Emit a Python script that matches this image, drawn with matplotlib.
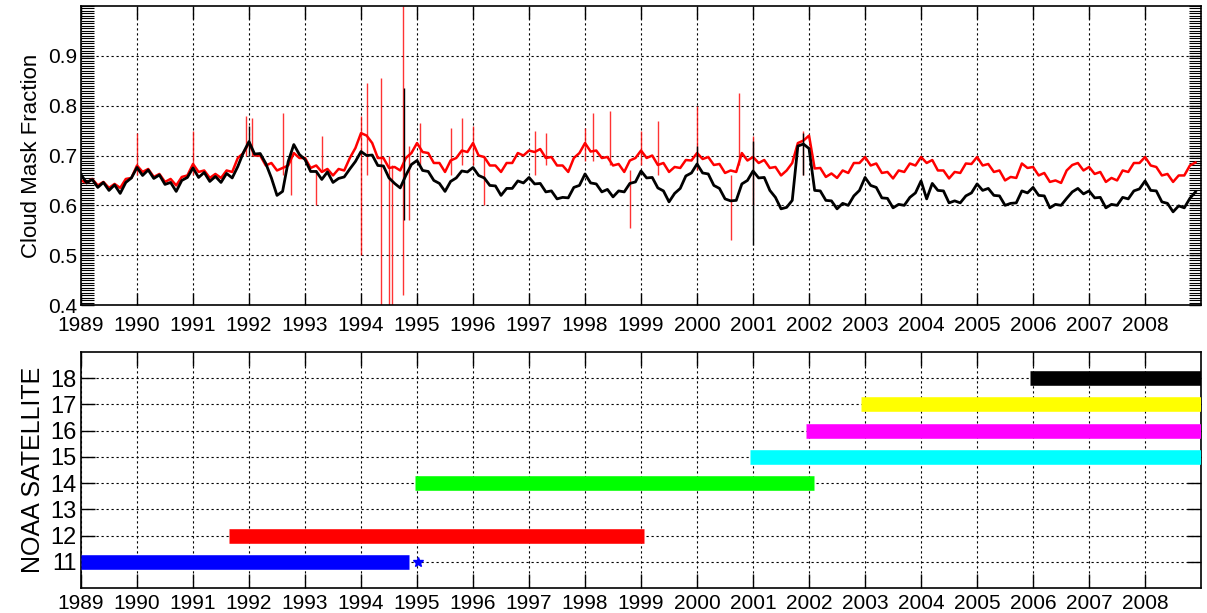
import numpy as np
import matplotlib.pyplot as plt
from matplotlib.ticker import MultipleLocator

plt.rcParams['font.family'] = ['Liberation Sans', 'DejaVu Sans']

# Serie temporal (valores leidos cada 0.1 anos, 1989.0 - 2008.9)
years = np.arange(1989, 2009, 0.1)

black_vals = [
    0.662, 0.645, 0.652, 0.636, 0.646, 0.630, 0.641, 0.624, 0.646, 0.655,  # 1989
    0.676, 0.660, 0.671, 0.654, 0.661, 0.642, 0.646, 0.628, 0.650, 0.656,  # 1990
    0.675, 0.656, 0.666, 0.648, 0.658, 0.646, 0.664, 0.655, 0.678, 0.706,  # 1991
    0.728, 0.703, 0.704, 0.684, 0.655, 0.620, 0.628, 0.688, 0.722, 0.702,  # 1992
    0.692, 0.668, 0.668, 0.652, 0.667, 0.646, 0.654, 0.657, 0.673, 0.688,  # 1993
    0.708, 0.700, 0.701, 0.680, 0.679, 0.655, 0.644, 0.635, 0.660, 0.682,  # 1994
    0.690, 0.670, 0.668, 0.650, 0.644, 0.628, 0.648, 0.655, 0.669, 0.667,  # 1995
    0.676, 0.660, 0.655, 0.640, 0.639, 0.620, 0.634, 0.634, 0.649, 0.645,  # 1996
    0.656, 0.643, 0.644, 0.627, 0.629, 0.613, 0.616, 0.615, 0.636, 0.640,  # 1997
    0.663, 0.645, 0.643, 0.627, 0.632, 0.617, 0.629, 0.627, 0.644, 0.647,  # 1998
    0.669, 0.655, 0.656, 0.635, 0.629, 0.607, 0.624, 0.634, 0.659, 0.665,  # 1999
    0.683, 0.665, 0.663, 0.640, 0.634, 0.613, 0.609, 0.610, 0.643, 0.650,  # 2000
    0.669, 0.655, 0.656, 0.630, 0.616, 0.593, 0.596, 0.610, 0.719, 0.723,  # 2001
    0.714, 0.630, 0.629, 0.610, 0.609, 0.593, 0.604, 0.600, 0.619, 0.630,  # 2002
    0.656, 0.640, 0.636, 0.615, 0.614, 0.595, 0.602, 0.600, 0.616, 0.625,  # 2003
    0.649, 0.613, 0.644, 0.630, 0.629, 0.605, 0.609, 0.605, 0.619, 0.625,  # 2004
    0.643, 0.630, 0.634, 0.620, 0.619, 0.600, 0.604, 0.605, 0.629, 0.625,  # 2005
    0.636, 0.620, 0.619, 0.595, 0.602, 0.600, 0.614, 0.627, 0.634, 0.623,  # 2006
    0.629, 0.615, 0.616, 0.595, 0.602, 0.600, 0.616, 0.613, 0.629, 0.633,  # 2007
    0.649, 0.630, 0.629, 0.607, 0.604, 0.587, 0.599, 0.595, 0.614, 0.627,  # 2008
]

red_vals = [
    0.650, 0.645, 0.653, 0.640, 0.647, 0.635, 0.643, 0.635, 0.653, 0.655,  # 1989
    0.680, 0.667, 0.673, 0.657, 0.663, 0.647, 0.653, 0.640, 0.657, 0.660,  # 1990
    0.683, 0.667, 0.670, 0.655, 0.663, 0.655, 0.670, 0.667, 0.695, 0.705,  # 1991
    0.725, 0.700, 0.700, 0.680, 0.685, 0.670, 0.675, 0.680, 0.705, 0.695,  # 1992
    0.695, 0.675, 0.680, 0.667, 0.673, 0.660, 0.673, 0.670, 0.695, 0.715,  # 1993
    0.745, 0.740, 0.725, 0.695, 0.695, 0.675, 0.677, 0.670, 0.695, 0.705,  # 1994
    0.725, 0.707, 0.705, 0.685, 0.685, 0.667, 0.690, 0.695, 0.710, 0.707,  # 1995
    0.725, 0.700, 0.697, 0.680, 0.680, 0.667, 0.685, 0.685, 0.705, 0.700,  # 1996
    0.710, 0.707, 0.713, 0.695, 0.697, 0.680, 0.680, 0.667, 0.695, 0.705,  # 1997
    0.725, 0.708, 0.710, 0.695, 0.697, 0.680, 0.683, 0.667, 0.690, 0.695,  # 1998
    0.710, 0.695, 0.700, 0.681, 0.685, 0.667, 0.677, 0.675, 0.691, 0.690,  # 1999
    0.705, 0.693, 0.697, 0.681, 0.683, 0.665, 0.670, 0.667, 0.705, 0.690,  # 2000
    0.697, 0.685, 0.691, 0.675, 0.677, 0.660, 0.670, 0.685, 0.725, 0.730,  # 2001
    0.740, 0.674, 0.675, 0.657, 0.664, 0.655, 0.670, 0.665, 0.685, 0.685,  # 2002
    0.697, 0.680, 0.684, 0.665, 0.667, 0.654, 0.670, 0.667, 0.684, 0.680,  # 2003
    0.697, 0.685, 0.691, 0.670, 0.670, 0.654, 0.667, 0.665, 0.684, 0.683,  # 2004
    0.697, 0.680, 0.683, 0.667, 0.670, 0.650, 0.657, 0.655, 0.684, 0.675,  # 2005
    0.677, 0.660, 0.665, 0.647, 0.650, 0.645, 0.670, 0.681, 0.685, 0.670,  # 2006
    0.677, 0.663, 0.667, 0.647, 0.655, 0.650, 0.670, 0.667, 0.685, 0.685,  # 2007
    0.697, 0.680, 0.677, 0.660, 0.663, 0.647, 0.660, 0.660, 0.680, 0.686,  # 2008
]

# Picos (ano, minimo, maximo)
red_spike_t = [1990.0, 1991.0, 1991.95, 1992.05, 1992.6, 1992.75, 1993.2, 1993.3,
               1994.0, 1994.1, 1994.35, 1994.5, 1994.55, 1994.75, 1994.85,
               1995.05, 1995.6, 1995.8, 1996.0, 1996.2, 1997.1, 1997.3,
               1998.0, 1998.15, 1998.45, 1998.8, 1999.0, 1999.3,
               2000.0, 2000.6, 2000.75, 2001.0, 2001.9]
red_spike_lo = [0.66, 0.66, 0.70, 0.70, 0.66, 0.62, 0.60, 0.67,
                0.50, 0.66, 0.38, 0.38, 0.38, 0.42, 0.57,
                0.68, 0.66, 0.68, 0.68, 0.60, 0.66, 0.68,
                0.69, 0.69, 0.68, 0.555, 0.68, 0.66,
                0.67, 0.53, 0.68, 0.60, 0.66]
red_spike_hi = [0.745, 0.75, 0.78, 0.775, 0.785, 0.70, 0.67, 0.74,
                0.78, 0.845, 0.855, 0.70, 0.68, 1.0, 0.72,
                0.765, 0.755, 0.775, 0.76, 0.70, 0.75, 0.745,
                0.755, 0.785, 0.79, 0.67, 0.75, 0.77,
                0.80, 0.66, 0.825, 0.74, 0.75]

black_spike_t = [1992.0, 1994.77, 2000.0, 2001.0, 2001.9]
black_spike_lo = [0.70, 0.57, 0.68, 0.52, 0.66]
black_spike_hi = [0.76, 0.835, 0.72, 0.73, 0.745]

# Periodos de cada satelite NOAA
sat_num = [11, 12, 14, 15, 16, 17, 18]
sat_start = [1989.0, 1991.65, 1994.97, 2000.95, 2001.95, 2002.93, 2005.95]
sat_end = [1994.85, 1999.05, 2002.08, 2009.0, 2009.0, 2009.0, 2009.0]
sat_color = ['blue', 'red', 'lime', 'cyan', 'magenta', 'yellow', 'black']

year_ticks = list(range(1989, 2009))

fig = plt.figure(figsize=(12.07, 6.13), dpi=100)

grid_style = dict(color='black', linestyle=(0, (2, 2.5)), linewidth=0.8)

# Panel superior
ax1 = fig.add_axes([0.0671, 0.5024, 0.928, 0.4878])
ax1.plot(years, red_vals, color='red', lw=1.8, zorder=2)
ax1.vlines(red_spike_t, red_spike_lo, red_spike_hi, color='red', lw=1.0, alpha=0.8, zorder=2)
ax1.plot(years, black_vals, color='black', lw=2.0, zorder=3)
ax1.vlines(black_spike_t, black_spike_lo, black_spike_hi, color='black', lw=1.0, zorder=3)
ax1.set_xlim(1989, 2009)
ax1.set_ylim(0.4, 1.0)
ax1.set_xticks(year_ticks)
ax1.set_yticks([0.4, 0.5, 0.6, 0.7, 0.8, 0.9])
ax1.yaxis.set_minor_locator(MultipleLocator(0.005))
ax1.grid(True, **grid_style)
ax1.set_ylabel('Cloud Mask Fraction', fontsize=16, labelpad=4)
ax1.tick_params(which='major', direction='in', length=9, width=1, top=True, right=True,
                labelsize=15, pad=3)
ax1.tick_params(axis='x', which='major', pad=8)
ax1.tick_params(which='minor', direction='in', length=9, width=0.8, left=True, right=True)
ax1.tick_params(axis='x', which='minor', bottom=False, top=False)

# Panel inferior
ax2 = fig.add_axes([0.0671, 0.0408, 0.928, 0.385])
for n, s, e, c in zip(sat_num, sat_start, sat_end, sat_color):
    ax2.plot([s, e], [n, n], color=c, lw=10.5, solid_capstyle='butt', zorder=3)
ax2.plot([1995.02], [11], marker='*', color='blue', markersize=7, zorder=3)
ax2.set_xlim(1989, 2009)
ax2.set_ylim(10, 19)
ax2.set_xticks(year_ticks)
ax2.set_yticks(range(11, 19))
ax2.grid(True, **grid_style)
ax2.set_ylabel('NOAA SATELLITE', fontsize=18, labelpad=4)
ax2.tick_params(direction='in', length=10, width=1, top=True, right=True,
                labelsize=15, pad=4)
ax2.tick_params(axis='y', labelsize=17, pad=3)

for ax in (ax1, ax2):
    for sp in ax.spines.values():
        sp.set_linewidth(1.2)

plt.savefig('out.png', dpi=100)
